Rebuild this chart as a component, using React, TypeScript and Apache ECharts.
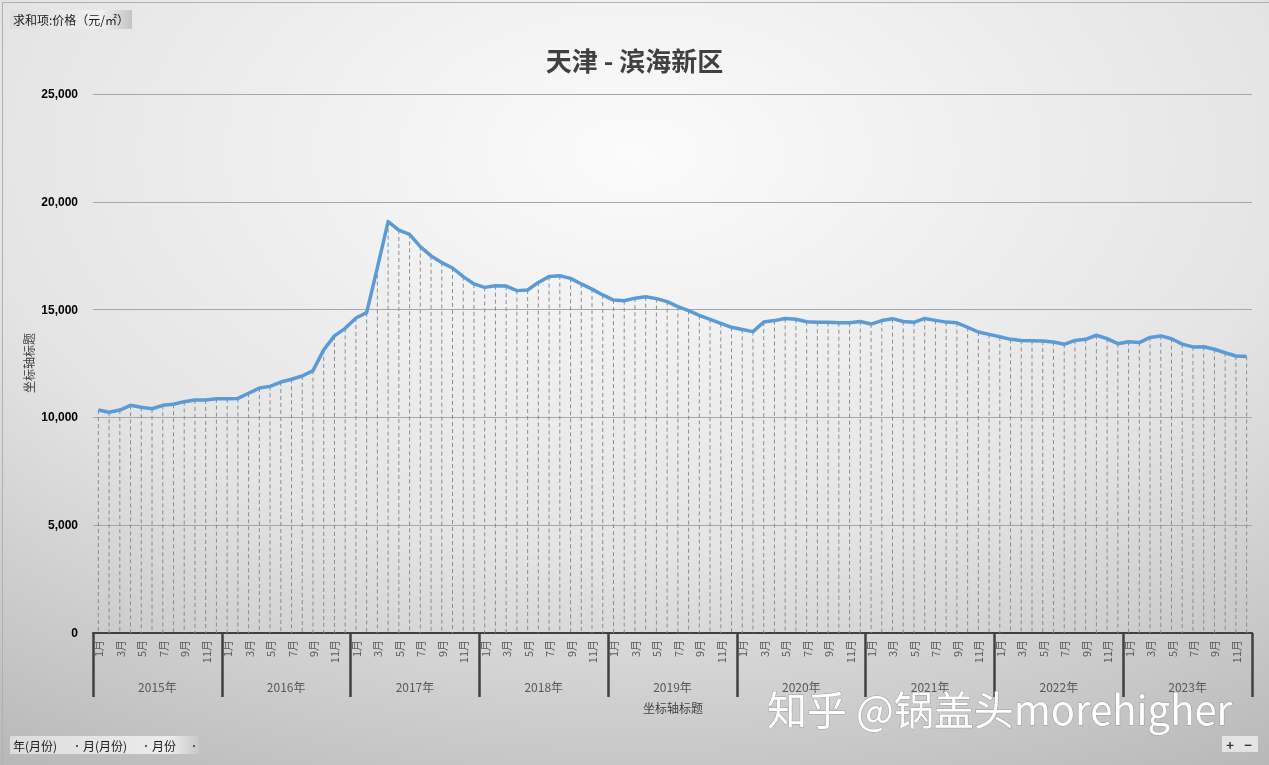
import React, { useEffect, useRef } from "react";
import * as echarts from "echarts";

const years = ["2015年", "2016年", "2017年", "2018年", "2019年", "2020年", "2021年", "2022年", "2023年"];
const monthNames = ["1月", "2月", "3月", "4月", "5月", "6月", "7月", "8月", "9月", "10月", "11月", "12月"];

const price2015 = [10340, 10240, 10340, 10560, 10470, 10400, 10560, 10610, 10730, 10810, 10810, 10870];
const price2016 = [10870, 10880, 11120, 11360, 11440, 11640, 11770, 11920, 12170, 13130, 13780, 14130];
const price2017 = [14610, 14860, 16950, 19080, 18690, 18490, 17920, 17490, 17180, 16930, 16530, 16190];
const price2018 = [16030, 16110, 16090, 15880, 15910, 16260, 16530, 16570, 16450, 16190, 15950, 15680];
const price2019 = [15440, 15410, 15530, 15600, 15510, 15370, 15140, 14950, 14730, 14550, 14360, 14180];
const price2020 = [14080, 13980, 14420, 14490, 14590, 14550, 14440, 14410, 14410, 14390, 14390, 14450];
const price2021 = [14330, 14490, 14580, 14450, 14410, 14590, 14500, 14420, 14390, 14180, 13960, 13850];
const price2022 = [13740, 13620, 13570, 13560, 13540, 13500, 13390, 13570, 13620, 13810, 13650, 13420];
const price2023 = [13510, 13470, 13710, 13780, 13650, 13400, 13270, 13280, 13160, 13000, 12850, 12830];

const yTicks = [0, 5000, 10000, 15000, 20000, 25000];

const prices = [
  ...price2015, ...price2016, ...price2017, ...price2018, ...price2019,
  ...price2020, ...price2021, ...price2022, ...price2023,
];
const monthCategories = years.flatMap(() => monthNames);

const FONT = '"Noto Sans CJK SC", "Noto Sans", sans-serif';

export default function App() {
  const ref = useRef<HTMLDivElement>(null);
  useEffect(() => {
    if (!ref.current) return;
    const chart = echarts.init(ref.current, null, { renderer: "svg" });
    const option: any = {
      animation: false,
      backgroundColor: {
        type: "radial",
        x: 0.5,
        y: 0.2,
        r: 0.95,
        colorStops: [
          { offset: 0, color: "#fbfbfb" },
          { offset: 0.55, color: "#e4e4e4" },
          { offset: 1, color: "#b7b7b7" },
        ],
      },
      title: {
        text: "天津 - 滨海新区",
        left: "center",
        top: 41,
        textStyle: { fontFamily: FONT, fontSize: 26, fontWeight: "bold", color: "#404040" },
      },
      grid: { left: 93, right: 17, top: 94, bottom: 132, containLabel: false },
      xAxis: [
        {
          type: "category",
          gridIndex: 0,
          position: "bottom",
          data: monthCategories,
          boundaryGap: true,
          axisLine: { show: true, lineStyle: { color: "#404040", width: 2 } },
          axisTick: { show: false },
          axisLabel: {
            interval: 1,
            rotate: 90,
            margin: 7,
            fontFamily: FONT,
            fontSize: 11,
            color: "#595959",
          },
          splitLine: { show: false },
        },
        {
          type: "category",
          gridIndex: 0,
          position: "bottom",
          offset: 0,
          data: years,
          boundaryGap: true,
          axisLine: { show: false },
          axisTick: { show: true, interval: 0, length: 64, lineStyle: { color: "#404040", width: 2.5 } },
          axisLabel: { interval: 0, margin: 47, fontFamily: FONT, fontSize: 12, color: "#595959" },
          splitLine: { show: false },
        },
      ],
      yAxis: {
        type: "value",
        min: 0,
        max: 25000,
        interval: 5000,
        axisLine: { show: false },
        axisTick: { show: false },
        axisLabel: {
          margin: 15,
          fontFamily: '"Liberation Sans", Arial, sans-serif',
          fontSize: 12,
          fontWeight: "bold",
          color: "#000000",
          formatter: (v: number) => (yTicks.includes(v) ? v.toLocaleString("en-US") : ""),
        },
        splitLine: { show: true, lineStyle: { color: "#a6a6a6", width: 1 } },
      },
      series: [
        {
          type: "custom",
          xAxisIndex: 0,
          yAxisIndex: 0,
          z: 1,
          silent: true,
          data: prices.map((v, i) => [i, v]),
          renderItem: (params: any, api: any) => {
            const top = api.coord([api.value(0), api.value(1)]);
            const bottom = api.coord([api.value(0), 0]);
            return {
              type: "line",
              shape: { x1: top[0], y1: top[1], x2: bottom[0], y2: bottom[1] },
              style: { stroke: "#8c8c8c", lineWidth: 1, lineDash: [4, 3] },
            };
          },
        },
        {
          type: "line",
          xAxisIndex: 0,
          yAxisIndex: 0,
          z: 3,
          data: prices,
          showSymbol: false,
          symbol: "none",
          smooth: false,
          lineStyle: { color: "#5b9bd5", width: 3.5, join: "round" },
        },
      ],
      graphic: [
        {
          type: "rect",
          left: 0,
          top: 0,
          shape: { width: 1268, height: 764 },
          style: { fill: "none", stroke: "#b0b0b0", lineWidth: 1 },
          silent: true,
        },
        {
          type: "rect",
          shape: { x: 10, y: 10, width: 122, height: 19 },
          style: {
            fill: {
              type: "linear", x: 0, y: 0, x2: 1, y2: 0,
              colorStops: [
                { offset: 0, color: "#dedede" },
                { offset: 0.75, color: "#f0f0f0" },
                { offset: 1, color: "#c4c4c4" },
              ],
            },
          },
        },
        {
          type: "text",
          style: {
            x: 13, y: 19.5, text: "求和项:价格（元/㎡）", fill: "#1a1a1a",
            font: `12px ${FONT}`, verticalAlign: "middle",
          },
        },
        {
          type: "text",
          x: 28,
          y: 363,
          rotation: Math.PI / 2,
          style: {
            x: 0, y: 0, text: "坐标轴标题", fill: "#404040",
            font: `12px ${FONT}`, align: "center", verticalAlign: "middle",
          },
        },
        {
          type: "text",
          style: {
            x: 673, y: 707, text: "坐标轴标题", fill: "#404040",
            font: `12px ${FONT}`, align: "center", verticalAlign: "middle",
          },
        },
        {
          type: "rect",
          shape: { x: 10, y: 736, width: 189, height: 18 },
          style: {
            fill: {
              type: "linear", x: 0, y: 0, x2: 1, y2: 0,
              colorStops: [
                { offset: 0, color: "#dcdcdc" },
                { offset: 0.85, color: "#ececec" },
                { offset: 1, color: "#c8c8c8" },
              ],
            },
          },
        },
        { type: "text", style: { x: 13, y: 745, text: "年(月份)", fill: "#1a1a1a", font: `12px ${FONT}`, verticalAlign: "middle" } },
        { type: "text", style: { x: 72, y: 745, text: "·", fill: "#444", font: `10px ${FONT}`, verticalAlign: "middle" } },
        { type: "text", style: { x: 83, y: 745, text: "月(月份)", fill: "#1a1a1a", font: `12px ${FONT}`, verticalAlign: "middle" } },
        { type: "text", style: { x: 141, y: 745, text: "·", fill: "#444", font: `10px ${FONT}`, verticalAlign: "middle" } },
        { type: "text", style: { x: 152, y: 745, text: "月份", fill: "#1a1a1a", font: `12px ${FONT}`, verticalAlign: "middle" } },
        { type: "text", style: { x: 189, y: 745, text: "·", fill: "#444", font: `10px ${FONT}`, verticalAlign: "middle" } },
        {
          type: "rect",
          shape: { x: 1222, y: 736, width: 36, height: 16 },
          style: { fill: "#e4e4e4" },
        },
        { type: "text", style: { x: 1230, y: 744, text: "+", fill: "#333", font: `bold 13px ${FONT}`, align: "center", verticalAlign: "middle" } },
        { type: "text", style: { x: 1248, y: 744, text: "−", fill: "#333", font: `bold 13px ${FONT}`, align: "center", verticalAlign: "middle" } },
        {
          type: "text",
          z: 100,
          style: {
            x: 767, y: 708, text: "知乎 @锅盖头morehigher",
            fill: "#ffffff",
            font: `40px ${FONT}`,
            verticalAlign: "middle",
            stroke: "rgba(120,120,120,0.55)",
            lineWidth: 1,
            shadowBlur: 3,
            shadowColor: "rgba(0,0,0,0.35)",
            shadowOffsetX: 1,
            shadowOffsetY: 1,
          },
        },
      ],
    };
    chart.setOption(option);
    return () => chart.dispose();
  }, []);
  return (
    <div
      ref={ref}
      style={{ position: "fixed", left: 0, top: 0, width: 1269, height: 765 }}
    />
  );
}
